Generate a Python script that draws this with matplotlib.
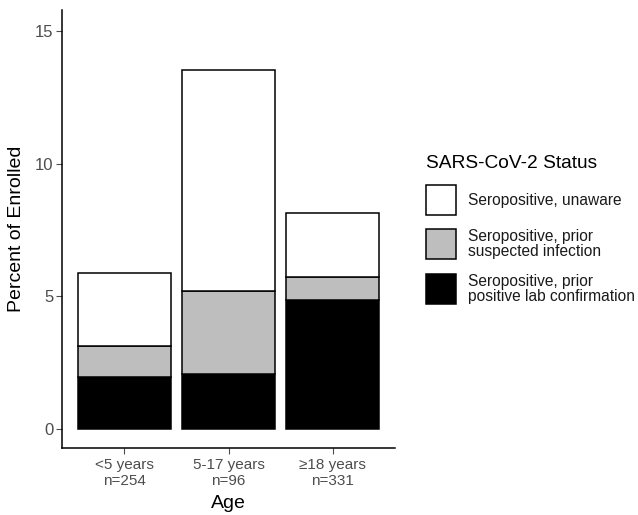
import matplotlib.pyplot as plt
from matplotlib.patches import Rectangle

plt.rcParams['font.family'] = ['Liberation Sans', 'DejaVu Sans']

AGE_GROUPS = ['<5 years\nn=254', '5-17 years\nn=96', '≥18 years\nn=331']
# percent of enrolled, stacked bottom -> top
LAB_CONFIRMED = [1.95, 2.07, 4.85]
SUSPECTED = [1.17, 3.12, 0.90]
UNAWARE = [2.78, 8.34, 2.41]

STATUS_LABELS = ['Seropositive, unaware',
                 'Seropositive, prior\nsuspected infection',
                 'Seropositive, prior\npositive lab confirmation']
STATUS_COLORS = ['white', '#BEBEBE', 'black']

TICK_GREY = '#4D4D4D'

fig = plt.figure(figsize=(6.38, 5.15), dpi=100)
ax = fig.add_axes([62 / 638, 67 / 515, 333 / 638, 438 / 515])

x = [1, 2, 3]
bottom2 = [a + b for a, b in zip(LAB_CONFIRMED, SUSPECTED)]
bar_kw = dict(width=0.9, edgecolor='black', linewidth=1.1)
ax.bar(x, LAB_CONFIRMED, color=STATUS_COLORS[2], **bar_kw)
ax.bar(x, SUSPECTED, bottom=LAB_CONFIRMED, color=STATUS_COLORS[1], **bar_kw)
ax.bar(x, UNAWARE, bottom=bottom2, color=STATUS_COLORS[0], **bar_kw)

ax.set_xlim(0.4, 3.6)
ax.set_ylim(-0.71, 15.79)
ax.set_xticks(x)
ax.set_xticklabels(AGE_GROUPS, fontsize=11, color=TICK_GREY, linespacing=1.2)
ax.set_yticks([0, 5, 10, 15])
ax.tick_params(axis='y', colors=TICK_GREY, labelsize=12, length=4, width=0.8, pad=2)
ax.tick_params(axis='x', colors=TICK_GREY, labelsize=11, length=4, width=0.8, pad=3)
for lab in ax.get_yticklabels() + ax.get_xticklabels():
    lab.set_color(TICK_GREY)
for side in ['top', 'right']:
    ax.spines[side].set_visible(False)
for side in ['left', 'bottom']:
    ax.spines[side].set_linewidth(1.1)
    ax.spines[side].set_color('black')

ax.set_ylabel('Percent of Enrolled', fontsize=14, labelpad=7)
ax.set_xlabel('Age', fontsize=14, labelpad=5)

# legend drawn by hand so it sits like the original
def px(xp, yp):
    return xp / 638, 1 - yp / 515

fig.text(*px(426, 163), 'SARS-CoV-2 Status', fontsize=13.8, va='center', ha='left')
key_tops = [185, 229, 274]
for top, i in zip(key_tops, range(3)):
    x0, y0 = px(426, top + 30)
    fig.patches.append(Rectangle((x0, y0), 30 / 638, 30 / 515, transform=fig.transFigure,
                                 facecolor=STATUS_COLORS[i], edgecolor='black', linewidth=1.1))
    fig.text(*px(468, top + 15), STATUS_LABELS[i], fontsize=11.2, color='#1a1a1a',
             va='center', ha='left', linespacing=1.0)

fig.savefig('out.png', dpi=100, facecolor='white')
